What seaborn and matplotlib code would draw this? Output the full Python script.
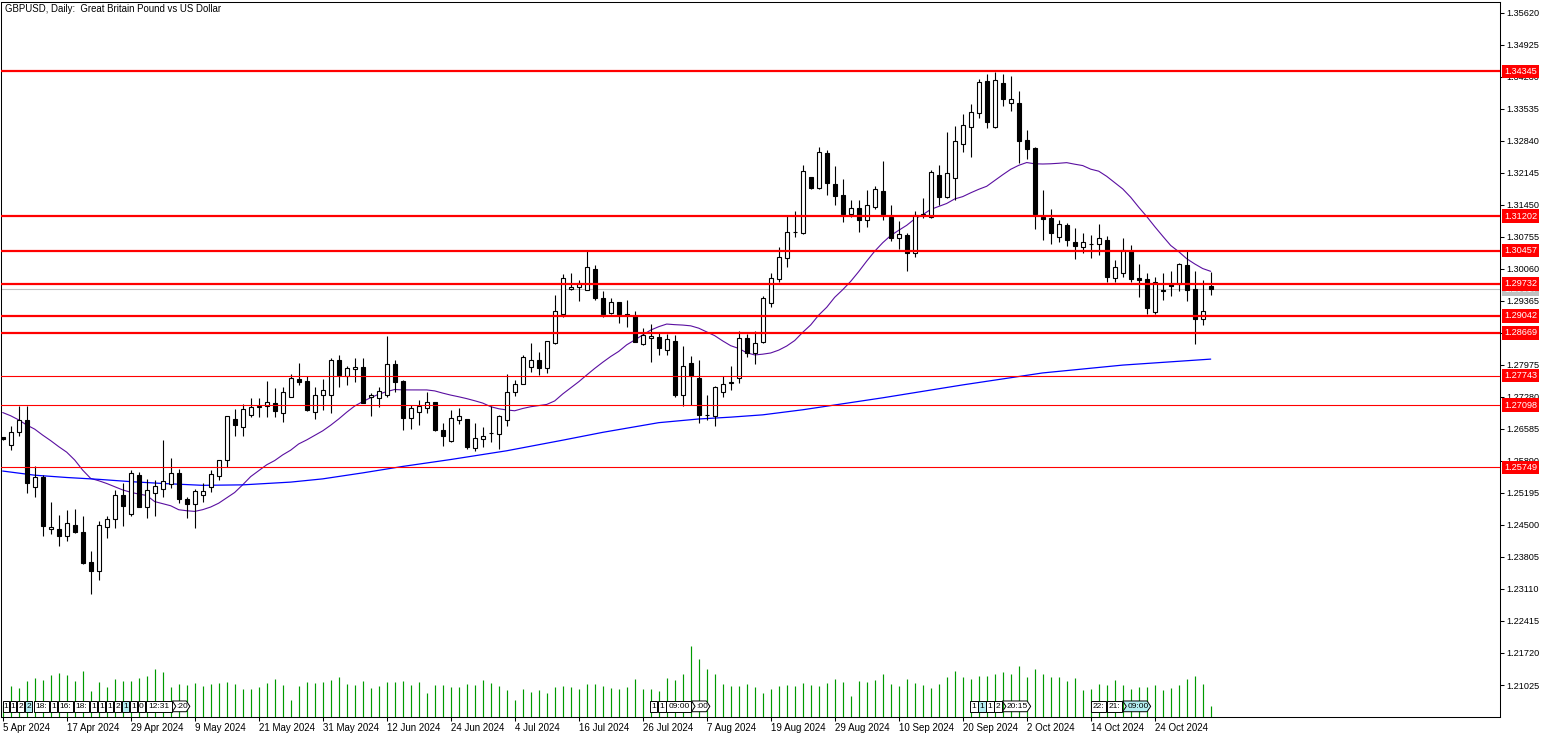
import numpy as np
import pandas as pd
import matplotlib
matplotlib.use("Agg")
import matplotlib.pyplot as plt
import matplotlib.transforms as mtransforms
from matplotlib.patches import Rectangle, Polygon
import seaborn as sns

sns.set_theme(style="white")
plt.rcParams['font.family'] = ['Liberation Sans', 'DejaVu Sans']

# ---------------- data ----------------
title = "GBPUSD, Daily:  Great Britain Pound vs US Dollar"

opens = [1.2640, 1.2623, 1.2652, 1.2678, 1.2533, 1.2553, 1.2441, 1.2441, 1.2425, 1.2450,
         1.2434, 1.2369, 1.2349, 1.2446, 1.2462, 1.2515, 1.2474, 1.2558, 1.2490, 1.2519,
         1.2529, 1.2538, 1.2563, 1.2506, 1.2496, 1.2514, 1.2532, 1.2557, 1.2590, 1.2680,
         1.2663, 1.2689, 1.2705, 1.2708, 1.2714, 1.2693, 1.2728, 1.2766, 1.2762, 1.2696,
         1.2731, 1.2733, 1.2807, 1.2773, 1.2789, 1.2792, 1.2727, 1.2726, 1.2731, 1.2799,
         1.2762, 1.2682, 1.2696, 1.2703, 1.2716, 1.2656, 1.2633, 1.2678, 1.2680, 1.2616,
         1.2637, 1.2649, 1.2647, 1.2677, 1.2739, 1.2757, 1.2792, 1.2808, 1.2790, 1.2846,
         1.2909, 1.2962, 1.2966, 1.2961, 1.3005, 1.2942, 1.2911, 1.2933, 1.2908, 1.2903,
         1.2842, 1.2855, 1.2859, 1.2829, 1.2850, 1.2731, 1.2801, 1.2769, 1.2689, 1.2686,
         1.2739, 1.2759, 1.2768, 1.2855, 1.2823, 1.2848, 1.2931, 1.2983, 1.3029, 1.3085,
         1.3083, 1.3205, 1.3182, 1.3258, 1.3190, 1.3166, 1.3125, 1.3137, 1.3111, 1.3141,
         1.3175, 1.3118, 1.3072, 1.3079, 1.3041, 1.3123, 1.3119, 1.3210, 1.3161, 1.3203,
         1.3276, 1.3313, 1.3344, 1.3413, 1.3314, 1.3409, 1.3365, 1.3367, 1.3286, 1.3268,
         1.3119, 1.3116, 1.3076, 1.3101, 1.3064, 1.3053, 1.3060, 1.3059, 1.3068, 1.2985,
         1.2998, 1.3045, 1.2985, 1.2983, 1.2913, 1.2960, 1.2973, 1.2972, 1.3014, 1.2962,
         1.2898, 1.2969]
highs = [1.2641, 1.2665, 1.2709, 1.2709, 1.2579, 1.2558, 1.2500, 1.2472, 1.2483, 1.2485,
         1.2469, 1.2393, 1.2459, 1.2469, 1.2526, 1.2540, 1.2569, 1.2566, 1.2549, 1.2547,
         1.2634, 1.2595, 1.2571, 1.2511, 1.2528, 1.2540, 1.2569, 1.2592, 1.2687, 1.2702,
         1.2712, 1.2725, 1.2725, 1.2762, 1.2747, 1.2750, 1.2778, 1.2801, 1.2773, 1.2750,
         1.2766, 1.2812, 1.2819, 1.2796, 1.2812, 1.2812, 1.2737, 1.2750, 1.2861, 1.2808,
         1.2765, 1.2710, 1.2721, 1.2739, 1.2717, 1.2672, 1.2700, 1.2704, 1.2681, 1.2672,
         1.2662, 1.2709, 1.2689, 1.2777, 1.2765, 1.2818, 1.2846, 1.2825, 1.2850, 1.2949,
         1.2994, 1.2996, 1.2981, 1.3045, 1.3014, 1.2958, 1.2942, 1.2935, 1.2938, 1.2914,
         1.2877, 1.2887, 1.2868, 1.2864, 1.2863, 1.2839, 1.2817, 1.2807, 1.2731, 1.2752,
         1.2773, 1.2795, 1.2871, 1.2865, 1.2871, 1.2948, 1.2998, 1.3053, 1.3121, 1.3131,
         1.3231, 1.3206, 1.3270, 1.3265, 1.3229, 1.3201, 1.3155, 1.3155, 1.3177, 1.3186,
         1.3241, 1.3145, 1.3110, 1.3083, 1.3132, 1.3160, 1.3221, 1.3231, 1.3303, 1.3316,
         1.3342, 1.3363, 1.3418, 1.3430, 1.3433, 1.3429, 1.3425, 1.3392, 1.3307, 1.3270,
         1.3177, 1.3136, 1.3113, 1.3105, 1.3094, 1.3083, 1.3079, 1.3103, 1.3078, 1.3025,
         1.3072, 1.3058, 1.3017, 1.2996, 1.2988, 1.2998, 1.3002, 1.3018, 1.3045, 1.3001,
         1.2982, 1.2999]
lows = [1.2634, 1.2613, 1.2642, 1.2520, 1.2510, 1.2425, 1.2430, 1.2404, 1.2416, 1.2433,
        1.2365, 1.2299, 1.2331, 1.2422, 1.2444, 1.2448, 1.2469, 1.2489, 1.2466, 1.2469,
        1.2510, 1.2530, 1.2497, 1.2466, 1.2444, 1.2500, 1.2521, 1.2548, 1.2576, 1.2642,
        1.2644, 1.2684, 1.2684, 1.2685, 1.2685, 1.2674, 1.2727, 1.2754, 1.2698, 1.2680,
        1.2700, 1.2694, 1.2749, 1.2754, 1.2761, 1.2714, 1.2687, 1.2705, 1.2728, 1.2739,
        1.2656, 1.2658, 1.2667, 1.2693, 1.2654, 1.2622, 1.2631, 1.2669, 1.2615, 1.2611,
        1.2619, 1.2631, 1.2615, 1.2665, 1.2730, 1.2756, 1.2783, 1.2776, 1.2780, 1.2843,
        1.2901, 1.2961, 1.2937, 1.2960, 1.2938, 1.2901, 1.2908, 1.2888, 1.2880, 1.2847,
        1.2841, 1.2804, 1.2818, 1.2818, 1.2727, 1.2708, 1.2710, 1.2671, 1.2678, 1.2665,
        1.2728, 1.2744, 1.2759, 1.2814, 1.2799, 1.2845, 1.2924, 1.2977, 1.3011, 1.3076,
        1.3081, 1.3179, 1.3180, 1.3166, 1.3145, 1.3108, 1.3119, 1.3087, 1.3097, 1.3136,
        1.3112, 1.3066, 1.3049, 1.3002, 1.3032, 1.3116, 1.3116, 1.3145, 1.3160, 1.3155,
        1.3260, 1.3249, 1.3333, 1.3312, 1.3311, 1.3360, 1.3349, 1.3236, 1.3244, 1.3093,
        1.3068, 1.3059, 1.3065, 1.3056, 1.3028, 1.3041, 1.3030, 1.3035, 1.2978, 1.2978,
        1.2988, 1.2978, 1.2945, 1.2908, 1.2908, 1.2938, 1.2946, 1.2958, 1.2937, 1.2843,
        1.2884, 1.2949]
closes = [1.2637, 1.2652, 1.2678, 1.2540, 1.2553, 1.2448, 1.2446, 1.2425, 1.2454, 1.2435,
          1.2367, 1.2349, 1.2449, 1.2463, 1.2514, 1.2492, 1.2562, 1.2490, 1.2526, 1.2534,
          1.2545, 1.2563, 1.2506, 1.2496, 1.2524, 1.2523, 1.2561, 1.2591, 1.2686, 1.2668,
          1.2701, 1.2705, 1.2708, 1.2716, 1.2698, 1.2738, 1.2768, 1.2760, 1.2700, 1.2731,
          1.2742, 1.2808, 1.2776, 1.2790, 1.2793, 1.2715, 1.2731, 1.2741, 1.2799, 1.2761,
          1.2683, 1.2703, 1.2709, 1.2716, 1.2656, 1.2642, 1.2682, 1.2687, 1.2620, 1.2638,
          1.2642, 1.2650, 1.2687, 1.2738, 1.2757, 1.2814, 1.2807, 1.2790, 1.2849, 1.2914,
          1.2985, 1.2967, 1.2975, 1.3009, 1.2942, 1.2909, 1.2933, 1.2908, 1.2906, 1.2848,
          1.2862, 1.2860, 1.2834, 1.2853, 1.2731, 1.2796, 1.2774, 1.2689, 1.2688, 1.2749,
          1.2757, 1.2760, 1.2855, 1.2823, 1.2846, 1.2942, 1.2985, 1.3031, 1.3085, 1.3086,
          1.3218, 1.3182, 1.3260, 1.3192, 1.3165, 1.3125, 1.3137, 1.3112, 1.3144, 1.3179,
          1.3125, 1.3073, 1.3081, 1.3041, 1.3123, 1.3124, 1.3216, 1.3161, 1.3213, 1.3283,
          1.3319, 1.3347, 1.3412, 1.3324, 1.3416, 1.3374, 1.3374, 1.3284, 1.3266, 1.3125,
          1.3115, 1.3083, 1.3103, 1.3068, 1.3056, 1.3064, 1.3060, 1.3074, 1.2989, 1.3009,
          1.3047, 1.2984, 1.2982, 1.2920, 1.2978, 1.2958, 1.2969, 1.3016, 1.2960, 1.2898,
          1.2914, 1.2962]
tick_volume = [12, 31, 29, 36, 39, 37, 42, 44, 42, 36,
               46, 26, 35, 30, 38, 36, 36, 39, 41, 48,
               45, 30, 33, 32, 34, 31, 33, 34, 35, 33,
               28, 28, 30, 34, 38, 32, 17, 31, 35, 34,
               35, 37, 40, 33, 32, 36, 29, 31, 35, 35,
               36, 32, 35, 24, 32, 32, 30, 30, 33, 32,
               37, 34, 31, 27, 17, 28, 25, 27, 24, 30,
               31, 30, 28, 33, 33, 31, 29, 28, 30, 38,
               28, 28, 26, 39, 37, 43, 71, 58, 48, 43,
               33, 31, 31, 33, 30, 24, 28, 31, 32, 31,
               34, 32, 31, 34, 38, 35, 21, 36, 35, 37,
               43, 33, 31, 38, 34, 32, 29, 33, 40, 46,
               40, 38, 41, 41, 43, 45, 43, 51, 40, 48,
               43, 40, 40, 36, 39, 27, 28, 33, 32, 37,
               32, 28, 30, 30, 32, 27, 29, 32, 38, 41,
               33, 11]

# 20-period MA values before enough closes are on the chart
ma20_head = [1.2694, 1.2687, 1.2678, 1.2667, 1.2658, 1.2645, 1.2633, 1.2620, 1.2608, 1.2591,
             1.2569, 1.2551, 1.2546, 1.2540, 1.2533, 1.2526, 1.2521, 1.2517, 1.2514]
# 200-period MA (read at these bars)
ma200_bar = [0, 4, 8, 12, 16, 20, 25, 30, 36, 40, 45, 50, 56, 63, 70, 75, 82, 87, 91, 95,
             100, 110, 120, 130, 140, 151]
ma200 = [1.2567, 1.2558, 1.2553, 1.2549, 1.2544, 1.2540, 1.2536, 1.2537, 1.2543, 1.2550,
         1.2563, 1.2577, 1.2592, 1.2611, 1.2634, 1.2651, 1.2672, 1.2680, 1.2684, 1.2689,
         1.2700, 1.2726, 1.2754, 1.2780, 1.2797, 1.2810]

strong_levels = [1.34345, 1.31202, 1.30457, 1.29732, 1.29042, 1.28669]
weak_levels = [1.27743, 1.27098, 1.25749]
bid_price = 1.29617

date_tick_labels = ["5 Apr 2024", "17 Apr 2024", "29 Apr 2024", "9 May 2024", "21 May 2024",
                    "31 May 2024", "12 Jun 2024", "24 Jun 2024", "4 Jul 2024", "16 Jul 2024",
                    "26 Jul 2024", "7 Aug 2024", "19 Aug 2024", "29 Aug 2024", "10 Sep 2024",
                    "20 Sep 2024", "2 Oct 2024", "14 Oct 2024", "24 Oct 2024"]
price_ticks = [1.21025, 1.21720, 1.22415, 1.23110, 1.23805, 1.24500, 1.25195, 1.25890,
               1.26585, 1.27280, 1.27975, 1.28670, 1.29365, 1.30060, 1.30755, 1.31450,
               1.32145, 1.32840, 1.33535, 1.34230, 1.34925, 1.35620]

# calendar event markers: (text, start bar, end bar, highlighted, arrow)
events = [("1", 0.0, 0.8, False, False), ("1", 0.9, 1.7, False, False),
          ("2", 1.8, 2.7, False, False), ("2", 2.8, 3.7, True, False),
          ("18:", 3.9, 5.8, False, False), ("1", 5.9, 6.8, False, False),
          ("16:", 6.9, 8.8, False, False), ("18:", 8.9, 10.8, False, False),
          ("1", 10.9, 11.8, False, False), ("1", 11.9, 12.8, False, False),
          ("1", 12.9, 13.8, False, False), ("2", 13.9, 14.8, False, False),
          ("1", 14.9, 15.8, True, False), ("1", 15.9, 16.8, False, False),
          ("0", 16.9, 17.8, False, False), ("12:31", 17.9, 21.2, False, False),
          (":20", 21.2, 23.4, False, True),
          ("1", 80.9, 81.8, False, False), ("1", 81.9, 82.9, False, False),
          ("09:00", 82.95, 86.1, False, False), (":00", 86.1, 88.4, False, True),
          ("1", 120.9, 121.9, False, False), ("1", 121.95, 122.9, True, False),
          ("1", 122.95, 123.9, False, False), ("2", 123.95, 124.9, False, False),
          ("20:15", 124.95, 128.5, False, True),
          ("22:", 136.0, 137.9, False, False), ("21:", 138.0, 139.9, False, False),
          ("09:00", 140.0, 143.5, True, True)]

# ---------------- figure ----------------
O = np.array(opens); Hh = np.array(highs); Ll = np.array(lows); C = np.array(closes)
n = len(C)
bars = np.arange(n)

ma20 = pd.Series(C).rolling(20).mean().to_numpy()
ma20[:len(ma20_head)] = ma20_head

W, H = 1552, 738
fig = plt.figure(figsize=(W / 100, H / 100), dpi=100)
fig.patch.set_facecolor("white")
L_px, R_px, T_px, B_px = 1.0, 1499.5, 1.7, 717.3
pos = [L_px / W, 1 - B_px / H, (R_px - L_px) / W, (B_px - T_px) / H]
xlim = (-0.21, 187.1)
ylim = (1.20324, 1.35859)

vax = fig.add_axes(pos)
ax = fig.add_axes(pos)
ax.patch.set_visible(False)
vax.set_facecolor("white")

# volume
vax.vlines(bars, 0, tick_volume, color="#009a00", lw=0.85, antialiased=True)
vax.set_xlim(*xlim)
vax.set_ylim(0, 715.6)
vax.set_xticks([]); vax.set_yticks([])
for s in vax.spines.values():
    s.set_visible(False)

# moving averages
sns.lineplot(x=bars, y=ma20, ax=ax, color="#5a0fa0", lw=0.8, zorder=2)
sns.lineplot(x=ma200_bar, y=ma200, ax=ax, color="#0000ff", lw=0.9, zorder=2)

# candles
ax.vlines(bars, Ll, Hh, color="black", lw=0.8, zorder=3)
up = C > O
body_bottom = np.minimum(O, C)
body_h = np.maximum(np.abs(C - O), 0.00003)
ax.bar(bars, body_h, bottom=body_bottom, width=0.5,
       color=np.where(up, "white", "black"), edgecolor="black", linewidth=0.8, zorder=4)

# horizontal levels
ax.axhline(bid_price, color="#c0c0c0", lw=0.8, zorder=1.5)
for lv in strong_levels:
    ax.axhline(lv, color="#ff0000", lw=1.6, zorder=5)
for lv in weak_levels:
    ax.axhline(lv, color="#ff0000", lw=0.8, zorder=5)

ax.set_xlim(*xlim)
ax.set_ylim(*ylim)
ax.set_xlabel(""); ax.set_ylabel("")

# axes ticks
ax.set_xticks(np.arange(0, 8 * len(date_tick_labels), 8))
ax.set_xticklabels(date_tick_labels, ha="left")
ax.yaxis.tick_right()
ax.set_yticks(price_ticks)
ax.set_yticklabels([f"{p:.5f}" for p in price_ticks])
ax.tick_params(axis="x", direction="out", length=3, width=0.75, pad=1.2,
               labelsize=7.0, colors="black", bottom=True)
ax.tick_params(axis="y", direction="out", length=3, width=0.75, pad=1.6,
               labelsize=6.6, colors="black", right=True, left=False)
for s in ax.spines.values():
    s.set_visible(True)
    s.set_color("black")
    s.set_linewidth(0.75)

# price labels on the right
blend_y = mtransforms.blended_transform_factory(ax.transAxes, ax.transData)
lx = (1504.0 - L_px) / (R_px - L_px)
ax.text(lx, bid_price, f"{bid_price:.5f}", transform=blend_y, ha="left", va="center",
        fontsize=6.6, color="white", clip_on=False, zorder=9,
        bbox=dict(boxstyle="square,pad=0.25", fc="#c0c0c0", ec="none"))
for lv in strong_levels + weak_levels:
    ax.text(lx, lv, f"{lv:.5f}", transform=blend_y, ha="left", va="center",
            fontsize=6.6, color="white", clip_on=False, zorder=10,
            bbox=dict(boxstyle="square,pad=0.25", fc="#ff0000", ec="none"))

# title
ax.text((5 - L_px) / (R_px - L_px), 1 - (9 - T_px) / (B_px - T_px), title,
        transform=ax.transAxes, ha="left", va="center", fontsize=6.9, color="black", zorder=10)

# event markers
blend_x = mtransforms.blended_transform_factory(ax.transData, ax.transAxes)
y0, y1 = 0.0078, 0.0228
ym = (y0 + y1) / 2
tip = 0.45
for txt, x0, x1, hl, arrow in events:
    fc = "#b4eef2" if hl else "white"
    if arrow:
        pts = [(x0, y0), (x1 - tip, y0), (x1, ym), (x1 - tip, y1), (x0, y1), (x0 + tip, ym)]
        patch = Polygon(pts, closed=True, transform=blend_x, fc=fc, ec="black", lw=0.7, zorder=6)
    else:
        patch = Rectangle((x0, y0), x1 - x0, y1 - y0, transform=blend_x, fc=fc, ec="black",
                          lw=0.7, zorder=6)
    ax.add_patch(patch)
    ax.text((x0 + x1) / 2 + (0.15 if arrow else 0), ym, txt, transform=blend_x, ha="center",
            va="center", fontsize=6.0, color="black", zorder=7)

fig.savefig("out.png", dpi=100, facecolor="white")
